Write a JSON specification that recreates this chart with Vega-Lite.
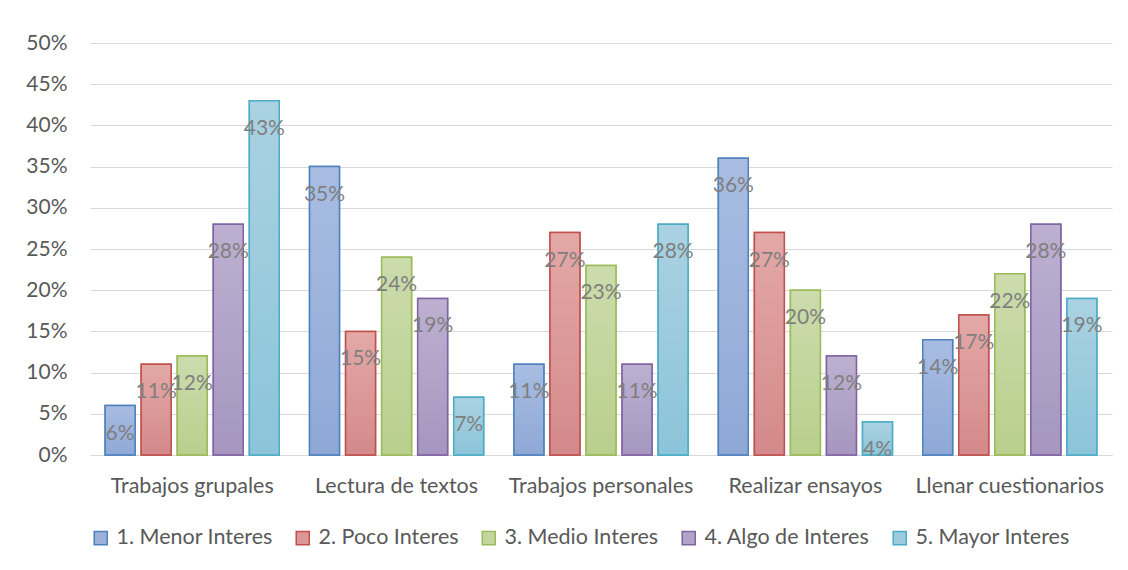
{
  "$schema": "https://vega.github.io/schema/vega-lite/v6.json",
  "width": 1022,
  "height": 412,
  "autosize": "none",
  "padding": {"left": 90, "top": 43, "right": 16, "bottom": 115},
  "background": "white",
  "data": {"values": [
    {"cat": "Trabajos grupales", "serie": "1. Menor Interes", "v": 0.06},
    {"cat": "Trabajos grupales", "serie": "2. Poco Interes", "v": 0.11},
    {"cat": "Trabajos grupales", "serie": "3. Medio Interes", "v": 0.12},
    {"cat": "Trabajos grupales", "serie": "4. Algo de Interes", "v": 0.28},
    {"cat": "Trabajos grupales", "serie": "5. Mayor Interes", "v": 0.43},
    {"cat": "Lectura de textos", "serie": "1. Menor Interes", "v": 0.35},
    {"cat": "Lectura de textos", "serie": "2. Poco Interes", "v": 0.15},
    {"cat": "Lectura de textos", "serie": "3. Medio Interes", "v": 0.24},
    {"cat": "Lectura de textos", "serie": "4. Algo de Interes", "v": 0.19},
    {"cat": "Lectura de textos", "serie": "5. Mayor Interes", "v": 0.07},
    {"cat": "Trabajos personales", "serie": "1. Menor Interes", "v": 0.11},
    {"cat": "Trabajos personales", "serie": "2. Poco Interes", "v": 0.27},
    {"cat": "Trabajos personales", "serie": "3. Medio Interes", "v": 0.23},
    {"cat": "Trabajos personales", "serie": "4. Algo de Interes", "v": 0.11},
    {"cat": "Trabajos personales", "serie": "5. Mayor Interes", "v": 0.28},
    {"cat": "Realizar ensayos", "serie": "1. Menor Interes", "v": 0.36},
    {"cat": "Realizar ensayos", "serie": "2. Poco Interes", "v": 0.27},
    {"cat": "Realizar ensayos", "serie": "3. Medio Interes", "v": 0.20},
    {"cat": "Realizar ensayos", "serie": "4. Algo de Interes", "v": 0.12},
    {"cat": "Realizar ensayos", "serie": "5. Mayor Interes", "v": 0.04},
    {"cat": "Llenar cuestionarios", "serie": "1. Menor Interes", "v": 0.14},
    {"cat": "Llenar cuestionarios", "serie": "2. Poco Interes", "v": 0.17},
    {"cat": "Llenar cuestionarios", "serie": "3. Medio Interes", "v": 0.22},
    {"cat": "Llenar cuestionarios", "serie": "4. Algo de Interes", "v": 0.28},
    {"cat": "Llenar cuestionarios", "serie": "5. Mayor Interes", "v": 0.19}
  ]},
  "encoding": {
    "x": {"field": "cat", "type": "nominal", "sort": null,
      "scale": {"paddingInner": 0.12, "paddingOuter": 0.06},
      "axis": {"title": null, "labelAngle": 0, "ticks": false, "domainColor": "#d9d9d9", "domainWidth": 1, "labelPadding": 20, "labelFontSize": 21.5, "labelLimit": 400, "labelColor": "#595959", "labelFont": "Lato"}},
    "xOffset": {"field": "serie", "type": "nominal", "scale": {"paddingInner": 0.17, "paddingOuter": 0.08}},
    "y": {"field": "v", "type": "quantitative",
      "scale": {"domain": [0, 0.5], "nice": false},
      "axis": {"title": null, "format": ".0%", "values": [0, 0.05, 0.1, 0.15, 0.2, 0.25, 0.3, 0.35, 0.4, 0.45, 0.5], "domain": false, "ticks": false, "labelPadding": 23, "labelFontSize": 21, "labelColor": "#595959", "labelFont": "Lato", "gridColor": "#d9d9d9", "gridWidth": 1.2}}
  },
  "layer": [
    {
      "mark": {"type": "bar", "strokeWidth": 1.5},
      "encoding": {
        "fill": {"field": "serie", "type": "nominal",
          "scale": {"range": ["#9bb1db", "#dc9896", "#c3d69f", "#b2a3c8", "#9dcbdd"]},
          "legend": {"title": null, "orient": "bottom", "direction": "horizontal", "symbolType": "square", "symbolSize": 170, "symbolStrokeWidth": 1.5, "labelFontSize": 21.5, "labelLimit": 400, "labelColor": "#595959", "labelFont": "Lato", "columnPadding": 19, "labelOffset": 5, "offset": 30, "symbolOffset": 0}},
        "stroke": {"field": "serie", "type": "nominal",
          "scale": {"range": ["#4f81bd", "#c0504d", "#9bbb59", "#8064a2", "#4bacc6"]}, "legend": null}
      }
    },
    {
      "transform": [{"filter": "datum.serie === '1. Menor Interes'"}],
      "mark": {"type": "bar", "stroke": "#4f81bd", "strokeWidth": 1.5,
        "fill": {"gradient": "linear", "x1": 0, "y1": 0, "x2": 0, "y2": 1, "stops": [{"offset": 0, "color": "#a9bde2"}, {"offset": 1, "color": "#8ea8d6"}]}}
    },
    {
      "transform": [{"filter": "datum.serie === '2. Poco Interes'"}],
      "mark": {"type": "bar", "stroke": "#c0504d", "strokeWidth": 1.5,
        "fill": {"gradient": "linear", "x1": 0, "y1": 0, "x2": 0, "y2": 1, "stops": [{"offset": 0, "color": "#e3a9a7"}, {"offset": 1, "color": "#d4898a"}]}}
    },
    {
      "transform": [{"filter": "datum.serie === '3. Medio Interes'"}],
      "mark": {"type": "bar", "stroke": "#9bbb59", "strokeWidth": 1.5,
        "fill": {"gradient": "linear", "x1": 0, "y1": 0, "x2": 0, "y2": 1, "stops": [{"offset": 0, "color": "#ccdcad"}, {"offset": 1, "color": "#b9cf8d"}]}}
    },
    {
      "transform": [{"filter": "datum.serie === '4. Algo de Interes'"}],
      "mark": {"type": "bar", "stroke": "#8064a2", "strokeWidth": 1.5,
        "fill": {"gradient": "linear", "x1": 0, "y1": 0, "x2": 0, "y2": 1, "stops": [{"offset": 0, "color": "#bdb0d0"}, {"offset": 1, "color": "#a696c0"}]}}
    },
    {
      "transform": [{"filter": "datum.serie === '5. Mayor Interes'"}],
      "mark": {"type": "bar", "stroke": "#4bacc6", "strokeWidth": 1.5,
        "fill": {"gradient": "linear", "x1": 0, "y1": 0, "x2": 0, "y2": 1, "stops": [{"offset": 0, "color": "#aad2e2"}, {"offset": 1, "color": "#8cc4d9"}]}}
    },
    {
      "mark": {"type": "text", "baseline": "middle", "align": "center", "dy": 28, "fontSize": 21, "font": "Lato", "color": "#7f7f7f"},
      "encoding": {"text": {"field": "v", "type": "quantitative", "format": ".0%"}}
    }
  ],
  "config": {"view": {"stroke": null}, "font": "Lato"}
}
